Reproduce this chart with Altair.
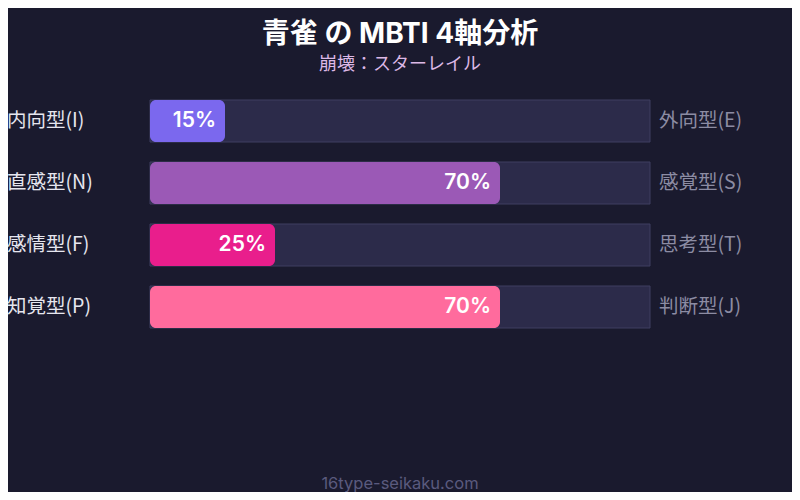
import altair as alt
import pandas as pd

left_labels = ["内向型(I)", "直感型(N)", "感情型(F)", "知覚型(P)"]
right_labels = ["外向型(E)", "感覚型(S)", "思考型(T)", "判断型(J)"]
values = [15, 70, 25, 70]
bar_colors = ["#7b68ee", "#9b59b6", "#e91e8c", "#ff6b9d"]

title_text = "青雀 の MBTI 4軸分析"
subtitle_text = "崩壊：スターレイル"
footer_text = "16type-seikaku.com"

BG = "#1a1a2e"
FONT = "Inter, Noto Sans CJK JP, sans-serif"
LFONT = "Noto Sans CJK JP, sans-serif"

df = pd.DataFrame({
    "row": left_labels,
    "left": left_labels,
    "right": right_labels,
    "value": values,
    "pct": [f"{v}%" for v in values],
    "lo": [0] * len(values),
    "hi": [100] * len(values),
})

x_scale = alt.Scale(domain=[0, 100], range=[142, 642])
y_scale = alt.Scale(domain=left_labels, range=[92, 320], paddingInner=20 / 62, paddingOuter=0)

base = alt.Chart(df)
Y = alt.Y("row:N", scale=y_scale, axis=None)

track = base.mark_rect(fill="#2c2b4a", stroke="#3f3e60", strokeWidth=1).encode(
    x=alt.X("lo:Q", scale=x_scale, axis=None),
    x2="hi:Q",
    y=Y,
)

fill = base.mark_bar(cornerRadius=6).encode(
    x=alt.X("lo:Q", scale=x_scale, axis=None),
    x2="value:Q",
    y=Y,
    color=alt.Color("row:N", scale=alt.Scale(domain=left_labels, range=bar_colors), legend=None),
)

pct = base.mark_text(align="right", baseline="middle", dx=-9, fontSize=21, fontWeight=600,
                     color="#ffffff", font=FONT).encode(
    x=alt.X("value:Q", scale=x_scale, axis=None),
    y=Y,
    text="pct:N",
)

left_txt = base.mark_text(align="left", baseline="middle", fontSize=19.5, color="#e6e6ef", font=LFONT).encode(
    x=alt.value(-1),
    y=Y,
    text="left:N",
)

right_txt = base.mark_text(align="left", baseline="middle", dx=9, fontSize=19.5, color="#8c8ca3", font=LFONT).encode(
    x=alt.X("hi:Q", scale=x_scale, axis=None),
    y=Y,
    text="right:N",
)

titles = alt.Chart(pd.DataFrame({"t": [title_text]})).mark_text(
    align="center", baseline="alphabetic", fontSize=28, fontWeight="bold", color="#ffffff", font=FONT
).encode(x=alt.value(392), y=alt.value(35), text="t:N")

sub = alt.Chart(pd.DataFrame({"t": [subtitle_text]})).mark_text(
    align="center", baseline="alphabetic", fontSize=18, color="#dcb8e6", font=LFONT
).encode(x=alt.value(392), y=alt.value(62), text="t:N")

footer = alt.Chart(pd.DataFrame({"t": [footer_text]})).mark_text(
    align="center", baseline="alphabetic", fontSize=16.5, color="#5a5a7e", font=FONT
).encode(x=alt.value(392), y=alt.value(481), text="t:N")

chart = alt.layer(track, fill, pct, left_txt, right_txt, titles, sub, footer).properties(
    width=784, height=484,
    autosize=alt.AutoSizeParams(type="none"),
    padding=0,
    background=BG,
).configure_view(stroke=None)

chart.save("out.html", embed_options={"renderer": "svg", "actions": False})
